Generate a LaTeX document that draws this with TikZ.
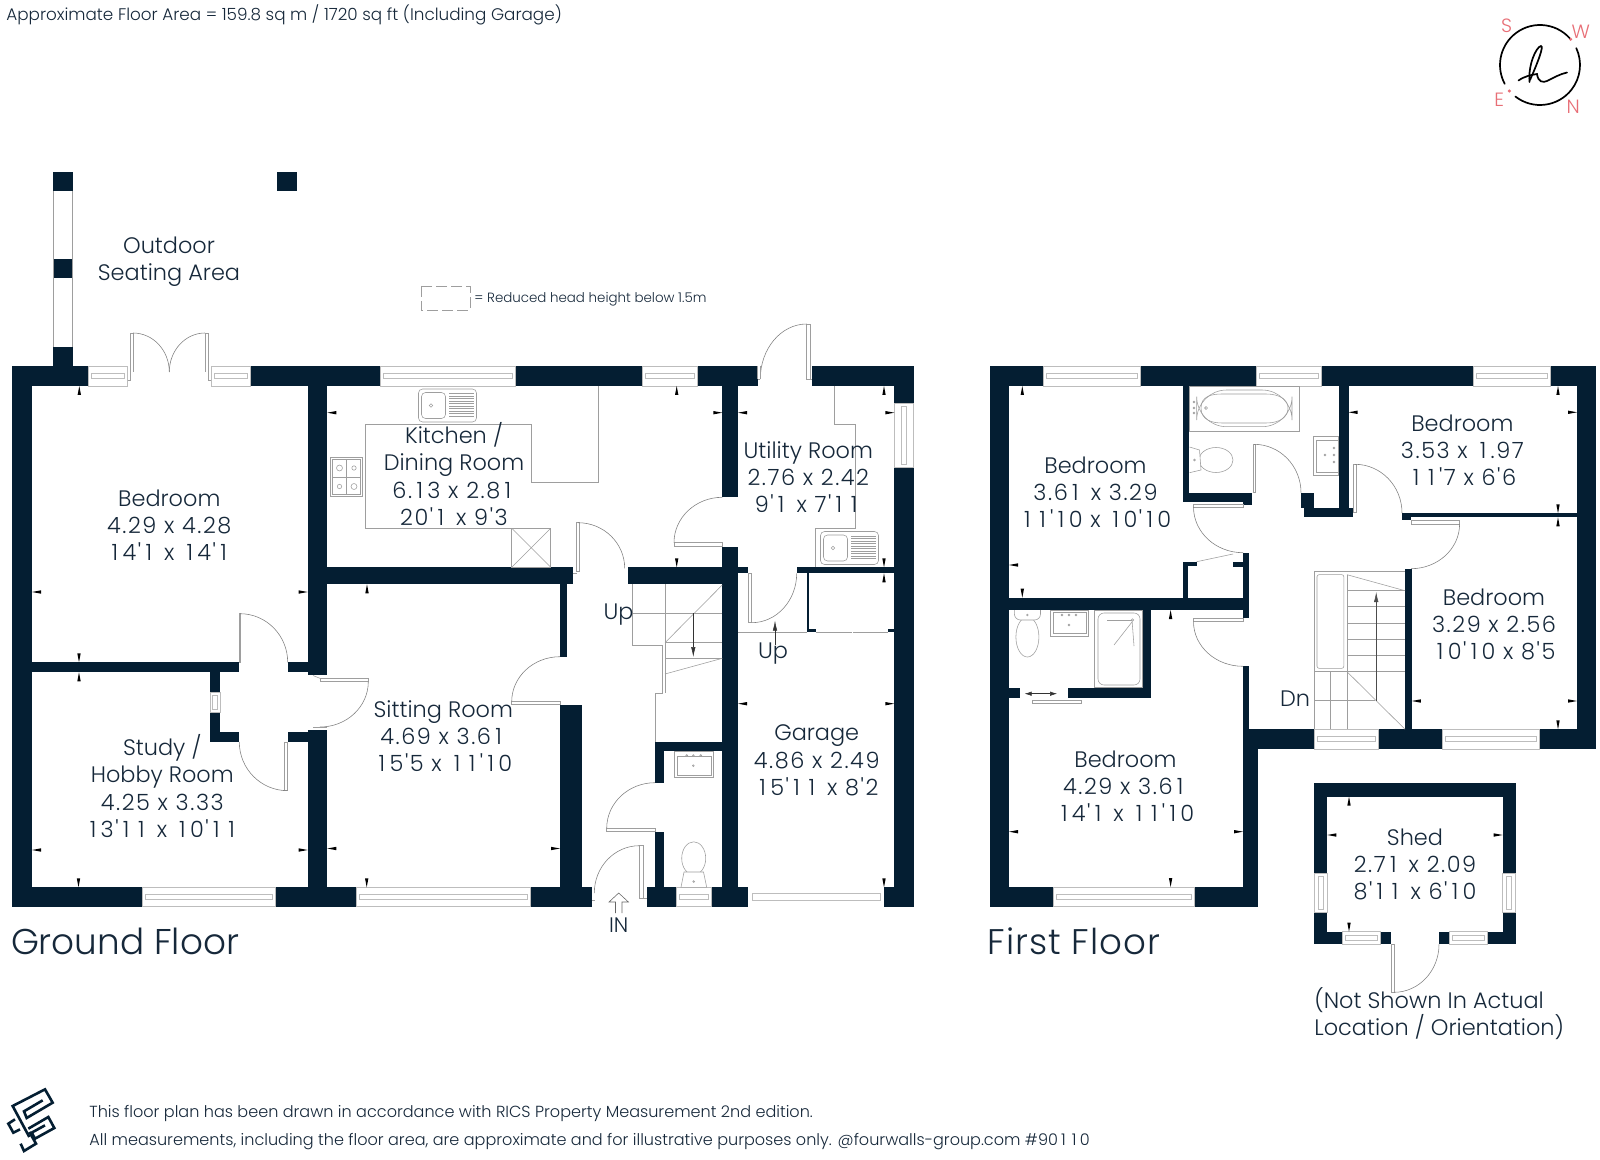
\documentclass[tikz,border=0pt]{standalone}
\usepackage{fontspec}
\usetikzlibrary{calc,arrows.meta}
\newfontfamily\pf{Poppins Light}
\newfontfamily\pn{Poppins Light}[LetterSpace=7,WordSpace=1.0]
\newcommand\oo{\makebox[0.68em][c]{1}}
\newcommand\nm[1]{{\pn #1}}
\definecolor{navy}{RGB}{4,30,50}
\definecolor{ink}{RGB}{22,40,58}
\definecolor{pinky}{RGB}{232,110,118}
\tikzset{
 wall/.style={fill=navy},
 thinl/.style={draw=black!38,line width=0.28pt},
 winl/.style={draw=black!26,line width=0.28pt},
 arcl/.style={draw=black!50,line width=0.28pt},
 lbl/.style={font=\pf\fontsize{11.2}{13.6}\selectfont,text=ink,align=center,inner sep=0pt},
 lbll/.style={font=\pf\fontsize{11.2}{13.6}\selectfont,text=ink,align=left,inner sep=0pt,anchor=west},
 smalll/.style={font=\pf\fontsize{8.03}{9}\selectfont,text=ink,inner sep=0pt,anchor=west},
 bigl/.style={font=\pf\fontsize{17.9}{20}\selectfont,text=ink,inner sep=0pt,anchor=west},
 comp/.style={font=\pf\fontsize{9.6}{10}\selectfont,text=pinky,inner sep=0pt},
}
\newcommand\wl[4]{\fill[wall] (#1,#2) rectangle (#3,#4);}
\newcommand\qa[6]{\draw[arcl] (#1,#2) .. controls ($(#1,#2)+0.5523*(#5,#6)-0.5523*(#3,#4)$) and ($(#5,#6)+0.5523*(#1,#2)-0.5523*(#3,#4)$) .. (#5,#6);}
\newcommand\rc[4]{\draw[thinl] (#1,#2) rectangle (#3,#4);}
\newcommand\lnn[4]{\draw[thinl] (#1,#2) -- (#3,#4);}
\newcommand\wh[4]{\draw[winl] (#1,#2) rectangle (#3,#4);
 \draw[winl] ({#1+3},{(#2+#4)/2-2.5}) rectangle ({#3-3},{(#2+#4)/2+2.5});}
\newcommand\wv[4]{\draw[winl] (#1,#2) rectangle (#3,#4);
 \draw[winl] ({(#1+#3)/2-2.5},{#2+3}) rectangle ({(#1+#3)/2+2.5},{#4-3});}
% dimension ticks: tip on the wall
\newcommand\tkU[2]{\fill[black] (#1,#2) -- ++(-1.7,9) -- ++(3.4,0) -- cycle;}
\newcommand\tkD[2]{\fill[black] (#1,#2) -- ++(-1.7,-9) -- ++(3.4,0) -- cycle;}
\newcommand\tkL[2]{\fill[black] (#1,#2) -- ++(9,-1.7) -- ++(0,3.4) -- cycle;}
\newcommand\tkR[2]{\fill[black] (#1,#2) -- ++(-9,-1.7) -- ++(0,3.4) -- cycle;}
\newcommand\sinkk[1]{%
 \begin{scope}[shift={(#1)}]
 \draw[thinl,rounded corners=2] (0,0) rectangle (58,33);
 \draw[thinl,rounded corners=2] (3,3.5) rectangle (27,29.5);
 \draw[thinl] (12.5,16.5) circle (1.8);
 \foreach \yy in {4.5,7,...,29}{\draw[thinl] (30.5,\yy) -- (55,\yy);}
 \end{scope}}
\begin{document}
\begin{tikzpicture}[x=0.5pt,y=-0.5pt]
\useasboundingbox (0,0) rectangle (1600,1160);
\fill[white] (0,0) rectangle (1600,1160);

% ---------- outdoor posts
\wl{53}{171.7}{72.7}{191}\wl{53}{258.7}{72.7}{278.3}\wl{277.3}{171.7}{297.3}{191}
\lnn{53.3}{191}{53.3}{347}\lnn{72.5}{191}{72.5}{347}

% ---------- ground floor walls
\wl{12}{366.3}{32}{906.7}
\wl{12}{366.3}{88.3}{386}\wl{53}{347}{72.7}{367}
\wl{250}{366.3}{380}{386}
\wl{515.3}{366.3}{642.3}{386}
\wl{697}{366.3}{757.7}{386}
\wl{812.3}{366.3}{913.7}{386}
\wl{894.3}{366.3}{913.7}{403}
\wl{894.3}{467.7}{913.7}{906.7}
\wl{12}{887.3}{142.7}{906.7}
\wl{275}{887.3}{356.7}{906.7}
\wl{530.7}{887.3}{592}{906.7}
\wl{646.7}{887.3}{676}{906.7}
\wl{711.3}{887.3}{748.3}{906.7}
\wl{884}{887.3}{913.7}{906.7}
\wl{307.7}{366.3}{327.3}{675}
\wl{307.7}{730}{327.3}{888}
\wl{32}{662.3}{239.3}{672.3}
\wl{287.7}{662.3}{308}{672.3}
\wl{210}{672}{220}{692.3}
\wl{210}{712.7}{220}{742}
\wl{210}{732.3}{239.3}{742}
\wl{287.7}{732.3}{308}{742}
\wl{327}{567.3}{572.7}{584.3}
\wl{560}{584}{566.7}{656.7}
\wl{560}{704.7}{582.3}{888}
\wl{627.7}{567.3}{722.5}{584.3}
\wl{722.3}{386}{738}{497.3}
\wl{722.3}{546.7}{738}{888}
\wl{737}{567.3}{748.3}{573.3}
\wl{796.7}{567.3}{894.5}{573.3}
\wl{806.7}{573}{809.3}{632.3}
\wl{806.7}{629.3}{816}{632.3}
\wl{888.3}{629.3}{894.5}{632.3}
\wl{655}{741.7}{722.5}{751}
\wl{655}{751}{664.3}{782.7}
\wl{655}{831.7}{664.3}{888}

% ground windows
\wh{88.3}{366.3}{127.5}{386}
\wh{211}{366.3}{250}{386}
\wh{380}{366.3}{515.3}{386}
\wh{642.3}{366.3}{697}{386}
\wv{894.3}{403}{913.7}{467.7}
\wv{210}{692.3}{220}{712.7}
\wh{142.7}{887.3}{275}{906.7}
\wh{356.7}{887.3}{530.7}{906.7}
\wh{676}{887.3}{711.3}{906.7}
\draw[winl] (752,893.5) rectangle (880,900);

% ground doors
\draw[thinl] (127.5,380) -- (130,380) -- (130,333) -- (133,333) -- (133,372);
\draw[thinl] (211,380) -- (208,380) -- (208,333) -- (205,333) -- (205,372);
\qa{133}{333}{133}{372}{169.3}{372}
\qa{205}{333}{205}{372}{169.3}{372}
\rc{239.3}{613.7}{240.3}{662.3}\qa{240}{613.7}{240}{662.3}{287.7}{662.3}
\rc{284.3}{742}{287.7}{790.7}\qa{287.7}{790.7}{287.7}{742}{239.3}{742}
\rc{320}{678.3}{368.3}{681.7}\qa{368.3}{681.7}{320}{681.7}{320}{727}
\lnn{313}{675.5}{320}{678.3}\lnn{313}{727.5}{327}{727.5}
\rc{576.7}{522.7}{579.5}{571.5}\qa{578}{522.7}{578}{568.3}{624.7}{568.3}\lnn{572.7}{573}{577}{573}
\rc{674}{542.7}{722.3}{546.7}\qa{674}{542.7}{722.3}{542.7}{722.3}{497.3}
\rc{748.3}{573.3}{751.7}{622.7}\qa{751.7}{622.7}{751.7}{573.3}{796.7}{573.3}
\rc{806.7}{324}{810}{379.3}\qa{806.7}{324}{806.7}{379}{760.3}{379}\lnn{757.7}{379.3}{760.3}{379.3}\lnn{757.7}{366.3}{757.7}{379.3}\lnn{760.3}{366.3}{760.3}{379.3}\lnn{810}{379.3}{812.3}{379.3}
\rc{511.7}{701.7}{560}{704.7}\qa{511.7}{701.7}{560}{701.7}{560}{656.7}
\rc{606.7}{828.3}{655}{831.7}\qa{606.7}{828.3}{655}{828.3}{655}{782.7}
\rc{639.3}{845.7}{643}{898}\qa{639.3}{845.7}{639.3}{893}{594.3}{893}
\draw[thinl] (592,900) -- (595,900);\draw[thinl] (643,898) -- (646.7,898);

% kitchen
\draw[thinl] (598.7,386) -- (598.7,482.7) -- (531.7,482.7) -- (531.7,424.3) -- (365.7,424.3) -- (365.7,528.3) -- (511.7,528.3);
\rc{511.7}{528.3}{550.7}{567.3}\lnn{511.7}{528.3}{550.7}{567.3}\lnn{511.7}{567.3}{550.7}{528.3}
\sinkk{418.5,389}
\rc{330}{457.3}{362.7}{496.7}
\rc{332}{459.5}{360.7}{494.5}\lnn{346.3}{459.5}{346.3}{494.5}\lnn{332}{477}{360.7}{477}
\foreach \hx/\hy/\hr in {339.5/468/3,354/468/2.2,339.5/486.5/2.2,354/486.5/3}{\draw[thinl] (\hx,\hy) circle (\hr);}
% utility
\draw[thinl] (834.3,386) -- (834.3,424.3) -- (855.7,424.3) -- (855.7,528.5) -- (815,528.5) -- (815,567.3);
\sinkk{820.5,531.5}
\lnn{738}{632.5}{806.7}{632.5}\lnn{816}{632.5}{852}{632.5}\lnn{853}{632.5}{888.3}{632.5}
\draw[-{Latex[length=5pt,width=2.2pt]},line width=0.25pt,black!80] (775,645) -- (775,620.7);
% stairs (ground)
\draw[thinl] (632.7,584.3) -- (632.7,645.7) -- (662.3,645.7) -- (662.3,693.3) -- (655,693.3) -- (655,741.7);
\lnn{665}{584.3}{665}{693}\lnn{632.7}{613.3}{722.3}{613.3}\lnn{722.3}{585}{665}{642.7}\lnn{665}{642.7}{722.3}{642.7}
\lnn{665}{658.3}{722.3}{658.3}\lnn{722.3}{658.3}{665}{674}
\draw[-{Latex[length=5pt,width=2.2pt]},line width=0.25pt,black!80] (693.3,613.3) -- (693.3,657);
% WC ground
\rc{674.3}{751}{713.3}{777.3}\rc{677}{756}{711}{775}
\foreach \dx/\dy in {686.7/755.5,693.3/755.5,700.7/755.5,693.3/765.7}{\draw[thinl] (\dx,\dy) circle (0.9);}
\draw[thinl] (693.7,858.3) ellipse (12 and 16.5);
\draw[thinl,fill=white] (684,872) -- (681,887.3) -- (706.7,887.3) -- (703.5,872) -- cycle;
\draw[thinl] (693.7,881.5) circle (0.9);
% IN arrow
\draw[thinl,draw=black!60] (615.5,913) -- (615.5,902) -- (609,902) -- (618.7,893) -- (628.4,902) -- (622,902) -- (622,913);

% ---------- first floor walls
\wl{989.5}{366.3}{1009}{906.7}
\wl{989.5}{366.3}{1043}{386}
\wl{1140}{366.3}{1256.5}{386}
\wl{1321}{366.3}{1473.5}{386}
\wl{1550.5}{366.3}{1596}{386}
\wl{1577}{366.3}{1596}{749}
\wl{1182.8}{386}{1188.8}{501.7}
\wl{1182.8}{492.7}{1252}{501.7}
\wl{1243}{500}{1252}{505}
\wl{1243}{552.7}{1248.9}{617.7}
\wl{1009}{597.7}{1248.9}{610}
\wl{1182.8}{561.7}{1187.6}{598}
\wl{1182.8}{561.7}{1196.7}{565.5}
\wl{1233}{561.7}{1243.5}{566.7}
\wl{1142}{610}{1151}{697.7}
\wl{1068}{687.7}{1151}{697.7}
\wl{1009}{687.7}{1019.5}{697.7}
\wl{1243}{666.3}{1248.9}{730}
\wl{1243}{729.3}{1314.5}{749}
\wl{1378.6}{729.3}{1442.6}{749}
\wl{1539.5}{729.3}{1596}{749}
\wl{1243}{729.3}{1258}{906.7}
\wl{989.5}{887}{1053}{906.7}
\wl{1194.7}{887}{1258}{906.7}
\wl{1338.6}{386}{1348.5}{517.3}
\wl{1304.2}{507.7}{1352.5}{517.3}
\wl{1301}{492.7}{1314}{507.7}
\wl{1304.2}{492.7}{1314}{517.3}
\wl{1402}{513.3}{1577}{517.3}
\wl{1402}{513.3}{1411}{520}
\wl{1405}{568.7}{1411.8}{730}
% first windows
\wh{1043}{366.3}{1140}{386}
\wh{1256.5}{366.3}{1321}{386}
\wh{1473.5}{366.3}{1550.5}{386}
\wh{1314.5}{729.3}{1378.6}{749}
\wh{1442.6}{729.3}{1539.5}{749}
\wh{1053}{887}{1194.7}{906.7}
% first doors
\rc{1193.5}{504}{1243}{507}\qa{1193.5}{507}{1243}{507}{1243}{552.7}
\lnn{1196.7}{561.7}{1233}{554}
\rc{1252.8}{444.3}{1254.8}{492.7}\qa{1254}{444.3}{1254}{492.7}{1301}{492.7}
\rc{1353.7}{464.3}{1356.4}{512.7}\qa{1355}{464.3}{1355}{513}{1402}{513}
\rc{1411}{520.7}{1459.6}{524}\qa{1459.6}{524}{1411}{524}{1411}{568.7}
\rc{1193.5}{618.3}{1243}{621.7}\qa{1193.5}{621.7}{1243}{621.7}{1243}{666.3}
% sliding door
\rc{1032.6}{700.7}{1081.6}{703.7}
\draw[{Latex[length=3.5pt,width=2.2pt]}-{Latex[length=3.5pt,width=2.2pt]},line width=0.25pt,black!80] (1024.7,693.7) -- (1057,693.7);
% stairs first
\draw[thinl] (1314.5,729.3) -- (1314.5,571.3) -- (1405,571.3);
\draw[thinl,rounded corners=1] (1317,574.7) rectangle (1343.8,668.3);
\lnn{1347}{574.7}{1347}{729.3}\lnn{1347}{574.7}{1405}{590.7}\lnn{1347}{671.7}{1405}{729.3}
\lnn{1330.7}{671.7}{1330.7}{729.3}
\lnn{1347}{590.7}{1405}{590.7}\lnn{1347}{606.7}{1405}{606.7}\lnn{1347}{623.3}{1405}{623.3}\lnn{1347}{639.3}{1405}{639.3}\lnn{1347}{655.7}{1405}{655.7}\lnn{1314.5}{671.7}{1405}{671.7}
\lnn{1314.5}{700.7}{1375.4}{700.7}
\draw[-{Latex[length=5pt,width=2.2pt]},line width=0.25pt,black!70] (1376.2,700.7) -- (1376.2,592);
% bathroom
\rc{1189.6}{386}{1299}{431.3}
\draw[thinl,rounded corners=15] (1196.7,390) rectangle (1292,426.7);
\draw[thinl] (1201,408) .. controls (1201,396) and (1212,394) .. (1222,394) -- (1266,394) .. controls (1280,394) and (1288,400) .. (1288,408) .. controls (1288,417) and (1280,423) .. (1266,423) -- (1222,423) .. controls (1212,423) and (1201,420) .. (1201,408);
\foreach \dy in {402,408,413}{\draw[thinl] (1194,\dy) circle (0.9);}\draw[thinl] (1206,408) circle (1.4);
\rc{1313}{436.7}{1338.6}{475}\rc{1316}{440}{1338.6}{472}
\foreach \dy in {448,455,462}{\draw[thinl] (1334,\dy) circle (0.9);}\draw[thinl] (1325,455) circle (0.9);
\draw[thinl] (1216,460) ellipse (17 and 12.5);
\draw[thinl,fill=white] (1189.5,447) -- (1199.5,450) -- (1201,470) -- (1189.5,472.7);
\draw[thinl] (1194.5,460) circle (0.9);
% ensuite
\draw[thinl] (1027.4,637) ellipse (11.5 and 20);
\draw[thinl,fill=white,rounded corners=3] (1014.4,610) -- (1014.4,620) -- (1040.5,620) -- (1040.5,610);
\draw[thinl] (1027.4,615) circle (0.9);
\rc{1050}{610}{1088.7}{636.7}\rc{1053}{612}{1086}{633.5}
\foreach \dx in {1062,1069,1076}{\draw[thinl] (\dx,615) circle (0.9);}\draw[thinl] (1069,625) circle (0.9);
\rc{1094.7}{610}{1142}{687.7}
\draw[thinl,rounded corners=3] (1098,613) rectangle (1140,685);
\lnn{1107}{620}{1132}{620}\lnn{1132}{620}{1134}{646}\lnn{1114}{645}{1132}{622}\draw[thinl] (1132.5,620) circle (1.3);

% ---------- shed
\wl{1314.3}{783.3}{1515.7}{796.7}
\wl{1314.3}{783.3}{1327.3}{873.3}
\wl{1502.7}{783.3}{1515.7}{873.3}
\wl{1314.3}{912.7}{1327.3}{944.3}
\wl{1502.7}{912.7}{1515.7}{944.3}
\wl{1314.3}{931.7}{1342.3}{944.3}
\wl{1380.7}{931.7}{1391}{944.3}
\wl{1439}{931.7}{1449}{944.3}
\wl{1487.7}{931.7}{1515.7}{944.3}
\wv{1314.3}{873.3}{1327.3}{912.7}
\wv{1502.7}{873.3}{1515.7}{912.7}
\wh{1342.3}{931.7}{1380.7}{944.3}
\wh{1449}{931.7}{1487.7}{944.3}
\rc{1391}{944.3}{1394}{992.3}\qa{1394}{992.3}{1394}{944.3}{1439}{944.3}

% ---------- ticks
\tkU{79.3}{386}\tkD{79}{662.3}\tkU{79}{672.3}\tkD{78.5}{887.3}\tkD{366.7}{887.3}
\tkL{32}{592}\tkL{32}{850}\tkL{327.3}{412.7}\tkL{327.3}{848.5}
\tkR{307.7}{592}\tkR{307.7}{850}\tkR{560}{848.5}
\tkU{367}{584.3}\tkU{676.7}{386}\tkD{676.7}{567.3}
\tkR{722.3}{412.7}\tkL{738}{412.7}
\tkU{884}{386}\tkR{894.3}{412.7}\tkD{884}{567.3}\tkU{884}{573.3}
\tkL{738}{703.7}\tkR{894.3}{703.7}\tkD{884}{887.3}
\tkU{1022.3}{386}\tkL{1009}{565}\tkD{1022.3}{597.7}
\tkU{1170.6}{610}\tkL{1009}{831.7}\tkR{1243}{831.7}\tkD{1170.6}{887}
\tkL{1348.5}{412.3}\tkR{1577}{412.3}\tkU{1558}{386}\tkD{1558}{513.3}\tkU{1558}{517.3}
\tkL{1411.8}{701}\tkR{1577}{701}\tkD{1558}{729.3}
\tkU{1349}{796.7}\tkL{1327.3}{835}\tkR{1502.7}{835}\tkD{1349}{931.7}

% ---------- dashed reduced head height
\draw[thinl,dash pattern=on 5.5pt off 2pt] (421,286) rectangle (470,310);

% ---------- labels
\node[lbl] (outdoor) at (169,261.5) {Outdoor\\Seating Area};
\node[lbl] (bed1) at (169.3,525) {Bedroom\\\nm{4.29 x 4.28}\\\nm{\oo4'\oo{} x \oo4'\oo}};
\node[lbl] (kitchen) at (454,474) {Kitchen /\\Dining Room\\\nm{6.\oo3 x 2.8\oo}\\\nm{20'\oo{} x 9'3}};
\node[lbl] (utility) at (808.3,477) {Utility Room\\\nm{2.76 x 2.42}\\\nm{9'\oo{} x 7'\oo\oo}};
\node[lbl] (sitting) at (443.3,736) {Sitting Room\\\nm{4.69 x 3.6\oo}\\\nm{\oo5'5 x \oo\oo'\oo0}};
\node[lbl] (study) at (162.3,786) {Study /\\Hobby Room\\\nm{4.25 x 3.33}\\\nm{\oo3'\oo\oo{} x \oo0'\oo\oo}};
\node[lbl] (garage) at (816.7,760.5) {Garage\\\nm{4.86 x 2.49}\\\nm{\oo5'\oo\oo{} x 8'2}};
\node[lbl] (up1) at (618.5,615) {Up};
\node[lbl] (up2) at (773,654) {Up};
\node[lbl,font=\pf\fontsize{10.5}{12}\selectfont] (in) at (618.7,925) {IN};
\node[lbl] (bed2) at (1095.5,492.3) {Bedroom\\\nm{3.6\oo{} x 3.29}\\\nm{\oo\oo'\oo0 x \oo0'\oo0}};
\node[lbl] (bed3) at (1462.4,450) {Bedroom\\\nm{3.53 x \oo.97}\\\nm{\oo\oo'7 x 6'6}};
\node[lbl] (bed4) at (1494,624.5) {Bedroom\\\nm{3.29 x 2.56}\\\nm{\oo0'\oo0 x 8'5}};
\node[lbl] (bed5) at (1125.5,786) {Bedroom\\\nm{4.29 x 3.6\oo}\\\nm{\oo4'\oo{} x \oo\oo'\oo0}};
\node[lbl] (dn) at (1295,699) {Dn};
\node[lbl] (shed) at (1415,864.5) {Shed\\\nm{2.7\oo{} x 2.09}\\\nm{8'\oo\oo{} x 6'\oo0}};
\node[lbll] (notshown) at (1314,1013.5) {(Not Shown In Actual\\Location / Orientation)};
\node[bigl] (gf) at (10.6,941) {Ground Floor};
\node[bigl,font=\pf\fontsize{17.8}{20}\selectfont\addfontfeature{LetterSpace=3}] (ff) at (987,941) {First Floor};
\node[smalll,font=\pf\fontsize{8.4}{10}\selectfont] (area) at (6,14.5) {Approximate Floor Area = 159.8 sq m / 1720 sq ft (Including Garage)};
\node[smalll,font=\pf\fontsize{6.7}{8}\selectfont] (reduced) at (474,299) {= Reduced head height below 1.5m};
\node[smalll] (foot1) at (89,1113.5) {This floor plan has been drawn in accordance with RICS Property Measurement 2nd edition.};
\node[smalll] (foot2) at (89,1142) {All measurements, including the floor area, are approximate and for illustrative purposes only. @fourwalls-group.com \#90\oo\oo0};

% ---------- compass
\draw[black,line width=0.85pt,line cap=round] (1540,65) ++(-42:40) arc[start angle=-42,end angle=-208,radius=40];
\draw[black,line width=0.85pt,line cap=round] (1540,65) ++(-232:40) arc[start angle=-232,end angle=-385,radius=40];
\fill[pinky] (1570.7,39.3) circle (1.7);\fill[pinky] (1509.3,91) circle (1.7);
\node[comp] (cs) at (1506.7,25.7) {S};
\node[comp] (cw) at (1580.7,32.3) {W};
\node[comp] (ce) at (1499.3,99.3) {E};
\node[comp] (cn) at (1573.3,106.7) {N};
\draw[black,line width=0.85pt,line cap=round] (1530,80) .. controls (1538,62) and (1544,46) .. (1541,46) .. controls (1536,47) and (1528,65) .. (1529.5,82);
\draw[black,line width=0.85pt,line cap=round] (1518.5,80.5) .. controls (1525,76) and (1531,75) .. (1537,74) .. controls (1538,82) and (1543,83) .. (1547,81) .. controls (1553,78) and (1560,74) .. (1567,72.5);

% ---------- logo
\begin{scope}[shift={(0,1082)},x=0.16667pt,y=-0.16667pt,line width=1.3pt,line join=miter]
\draw[navy] (128,55) -- (72,88) -- (80,108) -- (158,62) -- (135,22) -- (38,72) -- (88,165);
\draw[navy] (85,140) -- (145,105) -- (163,138) -- (105,170) -- (95,152) -- (135,130);
\draw[navy] (45,112) -- (25,125) -- (40,152) -- (60,142);
\draw[navy] (62,185) -- (72,207) -- (108,185) -- (88,150);
\end{scope}
\end{tikzpicture}
\end{document}
